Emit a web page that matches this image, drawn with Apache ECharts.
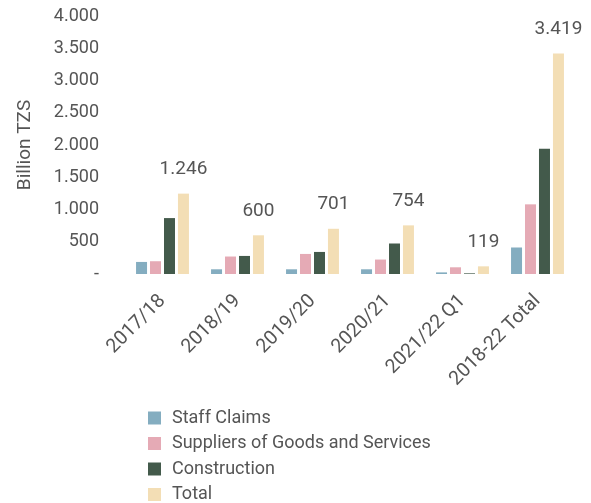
<!DOCTYPE html>
<html>
<head>
<meta charset="utf-8">
<script src="https://cdn.jsdelivr.net/npm/echarts@6/dist/echarts.min.js"></script>
<style>
  html, body { margin: 0; padding: 0; background: #fff; }
  #chart { width: 591px; height: 503px; }
</style>
</head>
<body>
<div id="chart"></div>
<script>
const categories = ['2017/18', '2018/19', '2019/20', '2020/21', '2021/22 Q1', '2018-22 Total'];
const staffClaims = [187, 73, 73, 73, 25, 411];
const suppliers = [198, 271, 311, 224, 104, 1080];
const construction = [867, 280, 342, 473, 10, 1941];
const total = [1246, 600, 701, 754, 119, 3419];

const font = 'Roboto';
const textColor = '#555';

function dotThousands(v) {
  if (v === 0) return '-';
  return String(v).replace(/\B(?=(\d{3})+(?!\d))/g, '.');
}

const chart = echarts.init(document.getElementById('chart'));
const barBase = { type: 'bar', barWidth: 11, barGap: '27%' };

chart.setOption({
  animation: false,
  textStyle: { fontFamily: font },
  grid: { left: 125, right: 16, top: 16, bottom: 229 },
  legend: {
    orient: 'vertical',
    left: 148,
    top: 409,
    height: 110,
    padding: 0,
    itemWidth: 13,
    itemHeight: 13,
    itemGap: 7.5,
    icon: 'rect',
    textStyle: { color: textColor, fontSize: 18, lineHeight: 18, fontFamily: font, padding: [0, 0, 0, 6] },
    data: ['Staff Claims', 'Suppliers of Goods and Services', 'Construction', 'Total'],
  },
  xAxis: {
    type: 'category',
    data: categories,
    axisLine: { show: false },
    axisTick: { show: false },
    axisLabel: { color: textColor, fontSize: 19.5, rotate: 45, margin: 24, interval: 0, fontFamily: font },
  },
  yAxis: {
    type: 'value',
    min: 0,
    max: 4000,
    interval: 500,
    name: 'Billion TZS',
    nameLocation: 'middle',
    nameGap: 90,
    nameTextStyle: { color: textColor, fontSize: 19, fontFamily: font },
    axisLine: { show: false },
    axisTick: { show: false },
    splitLine: { show: false },
    axisLabel: { color: textColor, fontSize: 18, margin: 26, formatter: dotThousands, fontFamily: font },
  },
  series: [
    { ...barBase, name: 'Staff Claims', data: staffClaims, itemStyle: { color: '#84adc0' } },
    { ...barBase, name: 'Suppliers of Goods and Services', data: suppliers, itemStyle: { color: '#e5aab5' } },
    { ...barBase, name: 'Construction', data: construction, itemStyle: { color: '#435a4b' } },
    {
      ...barBase,
      name: 'Total',
      data: total,
      itemStyle: { color: '#f3deb5' },
      label: {
        show: true,
        position: 'top',
        distance: 15,
        color: textColor,
        fontSize: 19,
        fontFamily: font,
        formatter: p => dotThousands(p.value),
      },
    },
  ],
});
</script>
</body>
</html>
